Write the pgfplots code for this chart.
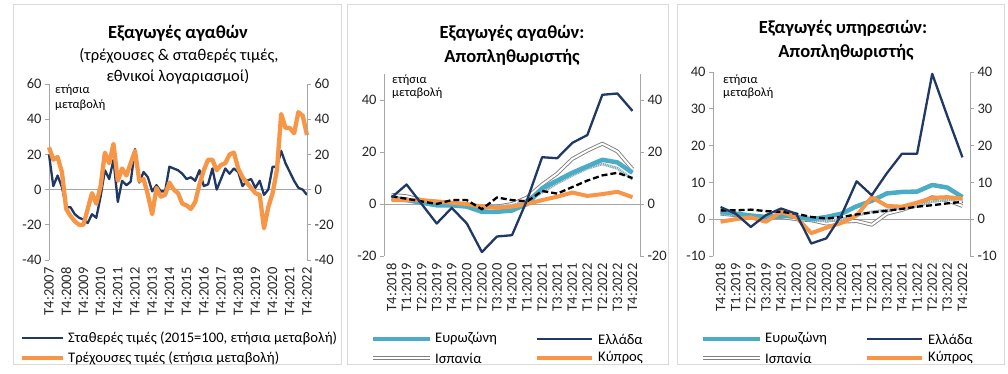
\documentclass[border=0pt]{standalone}
\usepackage{fontspec}
\setmainfont{Carlito}
\usepackage{pgfplots}
\pgfplotsset{compat=1.18}
\definecolor{navy}{HTML}{203864}
\definecolor{orng}{HTML}{F79646}
\definecolor{tealx}{HTML}{4BACC6}
\definecolor{axg}{HTML}{A6A6A6}
\definecolor{frm}{HTML}{D9D9D9}
\definecolor{spg}{HTML}{7F7F7F}
\definecolor{hat}{HTML}{7FA3AE}
\tikzset{spain/.style={spg, double=white, double distance=2pt, line width=0.9pt, line join=round}}
\pgfplotsset{
  base/.style={scale only axis, clip=false,
    tick align=outside, major tick length=4pt,
    tick label style={font=\fontsize{14.5}{14.5}\selectfont, text=black!85},
    y axis line style={draw=axg, line width=0.9pt},
    ytick style={draw=axg, line width=0.9pt},
  },
  leftax/.style={base, axis y line*=left, axis x line*=bottom,
    x axis line style={draw=none}, xtick style={draw=none},
    xticklabel style={rotate=90, anchor=east}},
  rightax/.style={base, axis y line*=right, axis x line=none},
}
\newcommand{\qlabels}{T4:2018,T1:2019,T2:2019,T3:2019,T4:2019,T1:2020,T2:2020,T3:2020,T4:2020,T1:2021,T2:2021,T3:2021,T4:2021,T1:2022,T2:2022,T3:2022,T4:2022}
\begin{document}
\begin{tikzpicture}[x=1pt,y=1pt]
\path[use as bounding box] (0,0) rectangle (1008,374);
\fill[white] (0,0) rectangle (1008,374);

% ---------------- Panel 1 ----------------
\begin{axis}[leftax, at={(49pt,114pt)}, anchor=south west, width=258pt, height=176pt,
  xmin=0, xmax=60, ymin=-40, ymax=60,
  ytick={-40,-20,0,20,40,60}, yticklabels={-40,-20,0,20,40,60},
  xtick={0,4,...,60},
  xticklabels={T4:2007,T4:2008,T4:2009,T4:2010,T4:2011,T4:2012,T4:2013,T4:2014,T4:2015,T4:2016,T4:2017,T4:2018,T4:2019,T4:2020,T4:2021,T4:2022}]
\addplot[axg, line width=0.9pt, forget plot] coordinates {(0,0) (60,0)};
\addplot[navy, line width=2.3pt, line join=round] coordinates {
(0,20)(1,2)(2,8)(3,1.5)(4,-10)(5,-10)(6,-14)(7,-16)(8,-17)(9,-19)(10,-14)(11,-16)(12,-4)(13,11)(14,6)(15,17)(16,-7)(17,5)(18,2.5)(19,4.5)(20,23)(21,4)(22,10)(23,7)(24,-1)(25,2.5)(26,-1)(27,-1)(28,13)(29,12)(30,11)(31,9)(32,6)(33,7)(34,5)(35,11)(36,2)(37,3)(38,12)(39,0)(40,6)(41,12)(42,9)(43,12)(44,10)(45,2)(46,5)(47,6)(48,1)(49,5)(50,-3)(51,0)(52,13)(53,13)(54,22)(55,15)(56,10)(57,5)(58,1)(59,0)(60,-3)};
\addplot[orng, line width=4.3pt, line join=round] coordinates {
(0,24)(1,17)(2,18.5)(3,10)(4,-11)(5,-15)(6,-18)(7,-20)(8,-20)(9,-11)(10,-2)(11,-8)(12,2)(13,21)(14,15)(15,26)(16,5)(17,12)(18,8)(19,15)(20,22)(21,5)(22,6)(23,-3)(24,-14)(25,1)(26,-4)(27,-3)(28,4)(29,0)(30,-2)(31,-8)(32,-9)(33,-11)(34,-7)(35,3)(36,11)(37,17)(38,17)(39,11)(40,14)(41,15)(42,20)(43,21)(44,12)(45,7)(46,4)(47,1)(48,-2)(49,-3)(50,-22)(51,-10)(52,-2)(53,11)(54,43)(55,35)(56,35)(57,32)(58,44)(59,42)(60,31)};
\end{axis}
\begin{axis}[rightax, at={(49pt,114pt)}, anchor=south west, width=258pt, height=176pt,
  xmin=0, xmax=60, ymin=-40, ymax=60,
  ytick={-40,-20,0,20,40,60}, yticklabels={-40,-20,0,20,40,60}]
\end{axis}

% ---------------- Panel 2 ----------------
\begin{axis}[leftax, at={(384pt,118pt)}, anchor=south west, width=256pt, height=182pt,
  xmin=-0.5, xmax=16.5, ymin=-20, ymax=50,
  ytick={-20,0,20,40}, yticklabels={-20,0,20,40},
  xtick={0,...,16}, xticklabels/.expanded={\qlabels}]
\addplot[axg, line width=0.9pt, forget plot] coordinates {(-0.5,0) (16.5,0)};
\addplot[spain] coordinates {
(0,3.5)(1,3)(2,1.5)(3,0)(4,0)(5,-0.5)(6,-1.5)(7,-1)(8,0)(9,2.5)(10,7.5)(11,11.7)(12,17.3)(13,20.5)(14,23.2)(15,20.2)(16,13.4)};
\addplot[hat, line width=2.6pt, line join=round] coordinates {
(0,2)(1,1.5)(2,0.5)(3,-0.5)(4,0)(5,-0.5)(6,-1.5)(7,-1)(8,-0.5)(9,1)(10,4.5)(11,8)(12,11)(13,13.7)(14,15.4)(15,13.7)(16,9.5)};
\addplot[white, opacity=0.7, line width=2.6pt, dash pattern=on 0.7pt off 1.1pt] coordinates {
(0,2)(1,1.5)(2,0.5)(3,-0.5)(4,0)(5,-0.5)(6,-1.5)(7,-1)(8,-0.5)(9,1)(10,4.5)(11,8)(12,11)(13,13.7)(14,15.4)(15,13.7)(16,9.5)};
\addplot[tealx, line width=4.5pt, line join=round] coordinates {
(0,2)(1,1.5)(2,0.5)(3,-0.5)(4,-0.5)(5,-1)(6,-3)(7,-3)(8,-2.5)(9,0)(10,6)(11,9)(12,12)(13,14.5)(14,17)(15,16)(16,12)};
\addplot[orng, line width=4pt, line join=round] coordinates {
(0,1.5)(1,1.5)(2,1.5)(3,1)(4,0.5)(5,0)(6,-1)(7,-1.5)(8,-1)(9,0)(10,1.5)(11,2.8)(12,4.4)(13,3.1)(14,3.8)(15,4.7)(16,2.6)};
\addplot[black, line width=2.3pt, dash pattern=on 6pt off 3pt] coordinates {
(0,3)(1,2)(2,1)(3,0)(4,1.5)(5,1.5)(6,-2)(7,2.5)(8,1.5)(9,1)(10,5)(11,4)(12,6.5)(13,9)(14,11)(15,12)(16,10)};
\addplot[navy, line width=2.3pt, line join=round] coordinates {
(0,2.5)(1,7.5)(2,0)(3,-7.5)(4,-1.5)(5,-7.5)(6,-18.5)(7,-12.5)(8,-12)(9,1.5)(10,18)(11,17.6)(12,23.5)(13,26.5)(14,42)(15,42.5)(16,35.8)};
\end{axis}
\begin{axis}[rightax, at={(384pt,118pt)}, anchor=south west, width=256pt, height=182pt,
  xmin=-0.5, xmax=16.5, ymin=-20, ymax=50,
  ytick={-20,0,20,40}, yticklabels={-20,0,20,40}]
\end{axis}

% ---------------- Panel 3 ----------------
\begin{axis}[leftax, at={(713pt,118pt)}, anchor=south west, width=257pt, height=184pt,
  xmin=-0.5, xmax=16.5, ymin=-10, ymax=40,
  ytick={-10,0,10,20,30,40}, yticklabels={-10,0,10,20,30,40},
  xtick={0,...,16}, xticklabels/.expanded={\qlabels}]
\addplot[axg, line width=0.9pt, forget plot] coordinates {(-0.5,0) (16.5,0)};
\addplot[spain] coordinates {
(0,1.5)(1,1.1)(2,0.8)(3,0.5)(4,0.6)(5,0)(6,-0.3)(7,-1.2)(8,-0.7)(9,-0.5)(10,-1.5)(11,1.5)(12,2.5)(13,4)(14,6)(15,5.1)(16,3.6)};
\addplot[hat, line width=2.6pt, line join=round] coordinates {
(0,1.5)(1,1.2)(2,1)(3,0.5)(4,1)(5,0.5)(6,-0.3)(7,-0.5)(8,0)(9,1)(10,2)(11,2.5)(12,3)(13,3.5)(14,4.8)(15,5.2)(16,5.5)};
\addplot[white, opacity=0.7, line width=2.6pt, dash pattern=on 0.7pt off 1.1pt] coordinates {
(0,1.5)(1,1.2)(2,1)(3,0.5)(4,1)(5,0.5)(6,-0.3)(7,-0.5)(8,0)(9,1)(10,2)(11,2.5)(12,3)(13,3.5)(14,4.8)(15,5.2)(16,5.5)};
\addplot[tealx, line width=4.5pt, line join=round] coordinates {
(0,2)(1,1.5)(2,1)(3,0.6)(4,1)(5,0.6)(6,0)(7,0.6)(8,1.5)(9,3.5)(10,5)(11,7)(12,7.4)(13,7.5)(14,9.3)(15,8.6)(16,6)};
\addplot[orng, line width=4pt, line join=round] coordinates {
(0,-0.7)(1,0)(2,0.5)(3,-0.7)(4,2)(5,0.5)(6,-3.8)(7,-2.3)(8,-1)(9,1)(10,6)(11,3.6)(12,3.4)(13,4.5)(14,5.8)(15,6)(16,5.6)};
\addplot[black, line width=2.3pt, dash pattern=on 6pt off 3pt] coordinates {
(0,2.4)(1,2.4)(2,2.6)(3,2.2)(4,2)(5,1.5)(6,0.6)(7,0.2)(8,0.6)(9,1.3)(10,1.8)(11,2.3)(12,2.8)(13,3.4)(14,3.8)(15,4.3)(16,4.7)};
\addplot[navy, line width=2.3pt, line join=round] coordinates {
(0,3.3)(1,1.5)(2,-2.1)(3,1.1)(4,2.9)(5,1.5)(6,-6.6)(7,-5.2)(8,1.1)(9,10.3)(10,6.5)(11,12.5)(12,17.8)(13,17.8)(14,39.5)(15,28)(16,16.8)};
\end{axis}
\begin{axis}[rightax, at={(713pt,118pt)}, anchor=south west, width=257pt, height=184pt,
  xmin=-0.5, xmax=16.5, ymin=-10, ymax=40,
  ytick={-10,0,10,20,30,40}, yticklabels={-10,0,10,20,30,40}]
\end{axis}

% masks and frames
\fill[white] (341.5,0) rectangle (346.5,374);
\fill[white] (668.5,0) rectangle (676.5,374);
\fill[white] (1004.5,0) rectangle (1008,374);
\draw[frm, line width=1pt] (13,9) rectangle (341,369);
\draw[frm, line width=1pt] (347,9) rectangle (668,369);
\draw[frm, line width=1pt] (677,9) rectangle (1004,369);

% titles
\node[font=\fontsize{18.5}{18.5}\selectfont\bfseries] at (178,341) {Εξαγωγές αγαθών};
\node[font=\fontsize{16.5}{16.5}\selectfont] at (179,318) {(τρέχουσες \& σταθερές τιμές,};
\node[font=\fontsize{16.5}{16.5}\selectfont] at (178,297) {εθνικοί λογαριασμοί)};
\node[font=\fontsize{18.5}{18.5}\selectfont\bfseries] at (512,341) {Εξαγωγές αγαθών:};
\node[font=\fontsize{18.5}{18.5}\selectfont\bfseries] at (512,317) {Αποπληθωριστής};
\node[font=\fontsize{18.5}{18.5}\selectfont\bfseries] at (843,346) {Εξαγωγές υπηρεσιών:};
\node[font=\fontsize{18.5}{18.5}\selectfont\bfseries] at (846,322) {Αποπληθωριστής};

% unit labels
\foreach \xx/\ya/\yb in {55/284/269, 392/294/281, 723/294/281}{
  \node[anchor=west, inner sep=0pt, font=\fontsize{12.5}{12.5}\selectfont] at (\xx,\ya) {ετήσια};
  \node[anchor=west, inner sep=0pt, font=\fontsize{12.5}{12.5}\selectfont] at (\xx,\yb) {μεταβολή};
}

% legends
\begin{scope}[every node/.style={anchor=west, inner sep=0pt, font=\fontsize{14.6}{14.6}\selectfont}]
\draw[navy, line width=2.3pt] (22,36) -- (63,36);
\node at (68,36) {Σταθερές τιμές (2015=100, ετήσια μεταβολή)};
\draw[orng, line width=4.3pt] (22,16) -- (63,16);
\node at (68,16) {Τρέχουσες τιμές (ετήσια μεταβολή)};
\foreach \dx in {0,330}{
  \draw[tealx, line width=4.5pt] (373+\dx,35) -- (430+\dx,35);
  \node at (435+\dx,35) {Ευρωζώνη};
  \draw[navy, line width=2.3pt] (537+\dx,35) -- (592+\dx,35);
  \node at (598+\dx,35) {Ελλάδα};
  \draw[spain] (373+\dx,16) -- (430+\dx,16);
  \node at (435+\dx,16) {Ισπανία};
  \draw[orng, line width=4pt] (537+\dx,16) -- (592+\dx,16);
  \node at (598+\dx,16) {Κύπρος};
}
\end{scope}
\end{tikzpicture}
\end{document}
